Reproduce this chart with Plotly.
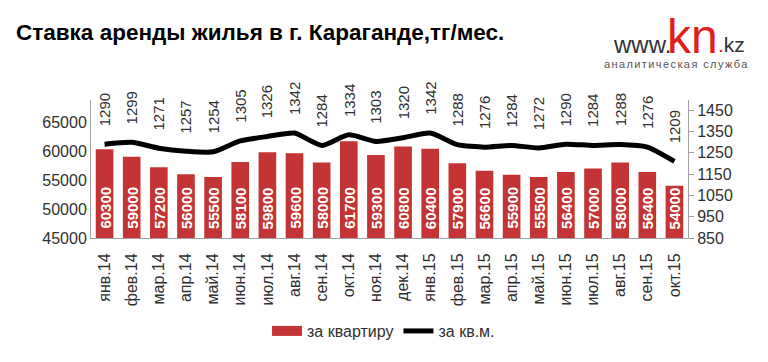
import plotly.graph_objects as go

categories = ["янв.14", "фев.14", "мар.14", "апр.14", "май.14", "июн.14", "июл.14", "авг.14",
              "сен.14", "окт.14", "ноя.14", "дек.14", "янв.15", "фев.15", "мар.15", "апр.15",
              "май.15", "июн.15", "июл.15", "авг.15", "сен.15", "окт.15"]
per_flat = [60300, 59000, 57200, 56000, 55500, 58100, 59800, 59600, 58000, 61700, 59300,
            60800, 60400, 57900, 56600, 55900, 55500, 56400, 57000, 58000, 56400, 54000]
per_sqm = [1290, 1299, 1271, 1257, 1254, 1305, 1326, 1342, 1284, 1334, 1303,
           1320, 1342, 1288, 1276, 1284, 1272, 1290, 1284, 1288, 1276, 1209]
left_ticks = [45000, 50000, 55000, 60000, 65000]
right_ticks = [850, 950, 1050, 1150, 1250, 1350, 1450]

FONT = "Liberation Sans"
RED = "#c43434"
Y_MIN = 45000

fig = go.Figure()
fig.add_trace(go.Bar(
    x=categories, y=per_flat, name="за квартиру", showlegend=False,
    marker=dict(color=RED, line=dict(width=0)),
))
# legend-only swatch (wide rectangle like the original legend)
fig.add_trace(go.Scatter(
    x=[None], y=[None], name="за квартиру", mode="lines",
    line=dict(color=RED, width=11),
))
fig.add_trace(go.Scatter(
    x=categories, y=per_sqm, name="за кв.м.", yaxis="y2", mode="lines",
    line=dict(color="black", width=5, shape="spline", smoothing=0.6),
))

for c, v in zip(categories, per_flat):
    fig.add_annotation(x=c, y=Y_MIN, yref="y", xref="x", text="<b>%d</b>" % v, textangle=-90,
                       showarrow=False, yanchor="bottom", xanchor="center", yshift=7,
                       font=dict(family=FONT, size=15, color="white"))

for c, v in zip(categories, per_sqm):
    fig.add_annotation(x=c, y=v, yref="y2", xref="x", text=str(v), textangle=-90,
                       showarrow=False, yanchor="bottom", xanchor="center", yshift=16,
                       font=dict(family=FONT, size=15, color="#303030"))

fig.add_annotation(xref="paper", yref="paper", x=-0.129, y=1.486, xanchor="left", yanchor="middle",
                   text="<b>Ставка аренды жилья в г. Караганде,тг/мес.</b>", showarrow=False,
                   font=dict(family=FONT, size=22.5, color="black"))
# logo
fig.add_annotation(xref="paper", yref="paper", x=0.975, y=1.40, xanchor="right", yanchor="middle",
                   text="www.", showarrow=False,
                   font=dict(family=FONT, size=24, color="#333333"))
fig.add_annotation(xref="paper", yref="paper", x=0.962, y=1.46, xanchor="left", yanchor="middle",
                   text="kn", showarrow=False,
                   font=dict(family=FONT, size=48, color="#e02020"))
fig.add_annotation(xref="paper", yref="paper", x=1.047, y=1.40, xanchor="left", yanchor="middle",
                   text="<span style='color:#e02020'>.</span>kz", showarrow=False,
                   font=dict(family=FONT, size=21, color="#333333"))
fig.add_annotation(xref="paper", yref="paper", x=0.98, y=1.261, xanchor="center", yanchor="middle",
                   text="<span style='letter-spacing:1.4px'>аналитическая служба</span>", showarrow=False,
                   font=dict(family=FONT, size=11, color="#555555"))

fig.update_layout(
    width=760, height=354,
    margin=dict(l=83, r=80, t=92, b=124, autoexpand=False),
    paper_bgcolor="white", plot_bgcolor="white",
    bargap=0.35,
    showlegend=True,
    legend=dict(orientation="h", x=0.49, y=-0.674, xanchor="center", yanchor="middle",
                font=dict(family=FONT, size=16, color="#303030"), tracegroupgap=0),
    xaxis=dict(tickangle=-90, tickfont=dict(family=FONT, size=16, color="#303030"),
               showline=True, linecolor="#a0a0a0", linewidth=1, ticks="", showgrid=False,
               ticklabelstandoff=8),
    yaxis=dict(range=[Y_MIN, 68800], tickvals=left_ticks, ticktext=[str(t) for t in left_ticks],
               tickfont=dict(family=FONT, size=16, color="#303030"),
               showline=True, linecolor="#a0a0a0", linewidth=1, showgrid=False, zeroline=False,
               ticks=""),
    yaxis2=dict(range=[850, 1497], tickvals=right_ticks, ticktext=[str(t) for t in right_ticks],
                overlaying="y", side="right",
                tickfont=dict(family=FONT, size=16, color="#303030"),
                showline=True, linecolor="#a0a0a0", linewidth=1, showgrid=False, zeroline=False,
                ticks="outside", ticklen=5, tickcolor="#a0a0a0"),
)

fig.write_html("out.html")
